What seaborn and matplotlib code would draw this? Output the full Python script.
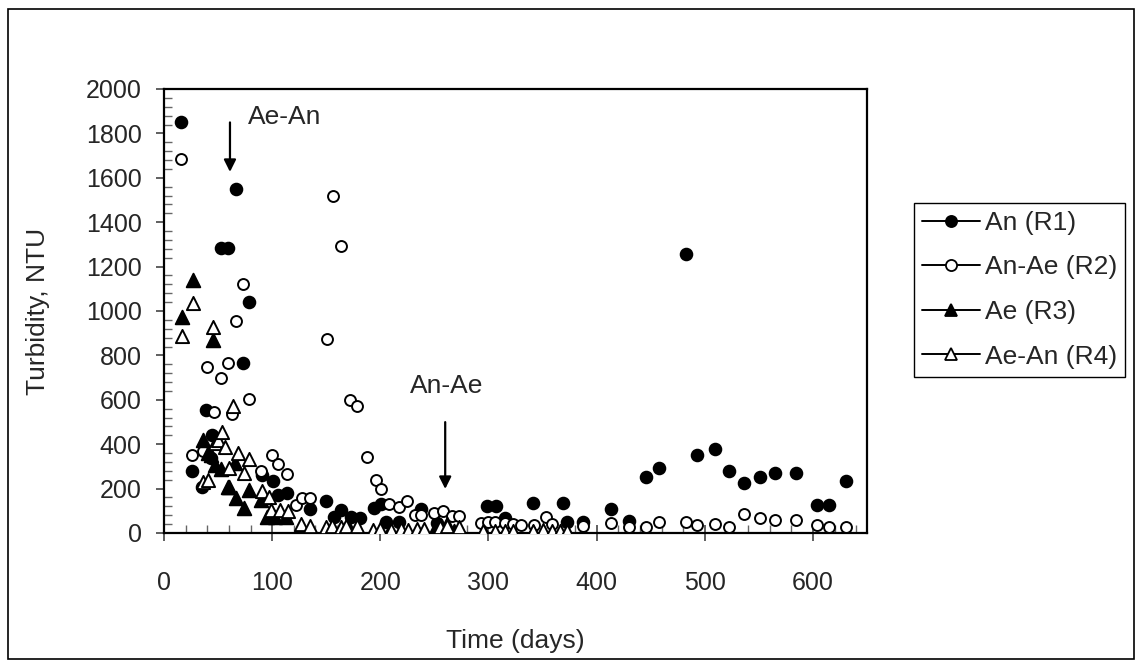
import numpy as np
import pandas as pd
import matplotlib
matplotlib.use("Agg")
import matplotlib.pyplot as plt
import seaborn as sns
from matplotlib.lines import Line2D
from matplotlib.patches import Rectangle
from matplotlib.ticker import MultipleLocator

# --- data (days, turbidity NTU) ---
r1_days = [16, 26, 35, 39, 43, 44, 53, 59, 67, 73, 79, 91, 101, 105, 114, 135, 150, 157, 164,
           173, 181, 194, 201, 205, 217, 238, 252, 299, 307, 315, 341, 369, 373, 387, 413, 430,
           446, 458, 483, 493, 509, 522, 536, 551, 565, 584, 604, 615, 631]
r1_ntu = [1850, 281, 209, 555, 337, 440, 1284, 1284, 1550, 768, 1042, 261, 236, 171, 179, 107, 146, 74, 104,
          70, 66, 111, 131, 50, 50, 107, 45, 122, 122, 66, 134, 137, 50, 50, 107, 55,
          251, 292, 1256, 350, 379, 281, 224, 251, 272, 272, 125, 125, 233]

r2_days = [16, 26, 36, 40, 46, 53, 59, 63, 67, 73, 79, 90, 100, 105, 114, 122, 128, 135, 151, 156,
           164, 172, 178, 188, 196, 201, 208, 217, 225, 232, 238, 250, 258, 266, 273, 293, 300, 306,
           315, 323, 330, 342, 353, 359, 387, 413, 430, 446, 458, 483, 493, 509, 522, 536, 551,
           565, 584, 604, 615, 631]
r2_ntu = [1685, 352, 370, 750, 544, 700, 768, 535, 955, 1120, 603, 280, 352, 311, 265, 126, 156, 156, 876, 1519,
          1295, 600, 573, 341, 237, 196, 131, 119, 146, 81, 81, 89, 101, 75, 75, 45, 50, 50,
          45, 40, 36, 36, 74, 40, 30, 45, 28, 28, 48, 48, 37, 41, 28, 86, 68,
          59, 59, 37, 28, 28]

r3_days = [17, 27, 36, 41, 43, 45, 47, 53, 59, 60, 66, 67, 74, 79, 90, 95, 103, 113, 135, 172,
           208, 250, 256, 262, 268, 296, 341]
r3_ntu = [975, 1138, 419, 359, 350, 870, 305, 290, 209, 206, 314, 156, 111, 194, 150, 70, 70, 70, 20, 15,
          5, 10, 25, 40, 10, 5, 5]

r4_days = [17, 27, 36, 41, 45, 47, 50, 54, 56, 60, 64, 68, 74, 79, 91, 97, 99, 107, 115, 127, 135,
           150, 155, 164, 168, 178, 193, 200, 210, 219, 226, 234, 240, 255, 262, 273, 295, 306,
           315, 323, 341, 350, 359, 366, 373]
r4_ntu = [888, 1036, 230, 239, 927, 404, 420, 457, 389, 292, 570, 362, 272, 332, 191, 164, 104, 104, 100, 40, 30,
          25, 30, 25, 30, 30, 15, 18, 15, 18, 15, 20, 18, 25, 30, 25, 10, 10,
          10, 10, 10, 15, 10, 10, 10]

labels = ["An (R1)", "An-Ae (R2)", "Ae (R3)", "Ae-An (R4)"]

df = pd.concat([
    pd.DataFrame({"day": r1_days, "ntu": r1_ntu, "reactor": labels[0]}),
    pd.DataFrame({"day": r2_days, "ntu": r2_ntu, "reactor": labels[1]}),
    pd.DataFrame({"day": r3_days, "ntu": r3_ntu, "reactor": labels[2]}),
    pd.DataFrame({"day": r4_days, "ntu": r4_ntu, "reactor": labels[3]}),
])

sns.set_style("white")
plt.rcParams["font.family"] = ["Liberation Sans", "DejaVu Sans"]

fig = plt.figure(figsize=(11.35, 6.67), dpi=100)
ax = fig.add_axes([164 / 1135, 1 - 533 / 667, (867 - 164) / 1135, (533 - 89) / 667])

styles = {
    labels[0]: dict(marker="o", face="black", s=70),
    labels[1]: dict(marker="o", face="white", s=62),
    labels[2]: dict(marker="^", face="black", s=95),
    labels[3]: dict(marker="^", face="white", s=90),
}

for name in labels:
    st = styles[name]
    sub = df[df["reactor"] == name]
    sns.scatterplot(data=sub, x="day", y="ntu", ax=ax, marker=st["marker"], s=st["s"],
                    color="black", facecolor=st["face"], edgecolor="black",
                    linewidth=1.4, legend=False, zorder=3)

ax.set_xlim(0, 650)
ax.set_ylim(0, 2000)
ax.xaxis.set_major_locator(MultipleLocator(100))
ax.xaxis.set_minor_locator(MultipleLocator(20))
ax.yaxis.set_major_locator(MultipleLocator(200))
ax.yaxis.set_minor_locator(MultipleLocator(40))
ax.set_xticks(range(0, 601, 100))

ax.tick_params(axis="x", which="major", direction="inout", length=12, width=1.2,
               color="#444444", labelsize=18, pad=21)
ax.tick_params(axis="x", which="minor", direction="in", length=6, width=1.0, color="#666666")
ax.tick_params(axis="y", which="major", direction="out", length=6, width=1.2,
               color="#444444", labelsize=18, pad=10)
ax.tick_params(axis="y", which="minor", direction="in", length=6, width=1.0, color="#666666")
ax.tick_params(bottom=True, left=True, which="both")

for sp in ax.spines.values():
    sp.set_color("black")
    sp.set_linewidth(1.6)

ax.set_xlabel("Time (days)", fontsize=19, labelpad=25)
ax.set_ylabel("Turbidity, NTU", fontsize=19, labelpad=26)

# phase-change markers
ax.annotate("", xy=(61, 1614), xytext=(61, 1862),
            arrowprops=dict(arrowstyle="-|>", color="black", lw=1.6, mutation_scale=18))
ax.text(78, 1875, "Ae-An", fontsize=19, va="center", ha="left")
ax.annotate("", xy=(260, 186), xytext=(260, 512),
            arrowprops=dict(arrowstyle="-|>", color="black", lw=1.6, mutation_scale=18))
ax.text(261, 660, "An-Ae", fontsize=19, va="center", ha="center")

handles = []
for name in labels:
    st = styles[name]
    handles.append(Line2D([0], [0], color="black", lw=1.4, marker=st["marker"],
                          markerfacecolor=st["face"], markeredgecolor="black",
                          markersize=8 if st["marker"] == "o" else 9, markeredgewidth=1.3))
leg = fig.legend(handles, labels, loc="upper left", bbox_to_anchor=(914 / 1135, 1 - 203 / 667),
                 fontsize=19, frameon=True, fancybox=False, framealpha=1, edgecolor="black",
                 handlelength=2.2, handletextpad=0.2, labelspacing=0.78, borderpad=0.3,
                 borderaxespad=0)
leg.get_frame().set_linewidth(1.0)

# chart-area border
fig.patches.append(Rectangle((8 / 1135, 1 - 659 / 667), (1134 - 8) / 1135, (659 - 9) / 667,
                             transform=fig.transFigure, fill=False, edgecolor="black", lw=1.2))

fig.savefig("out.png", dpi=100)
